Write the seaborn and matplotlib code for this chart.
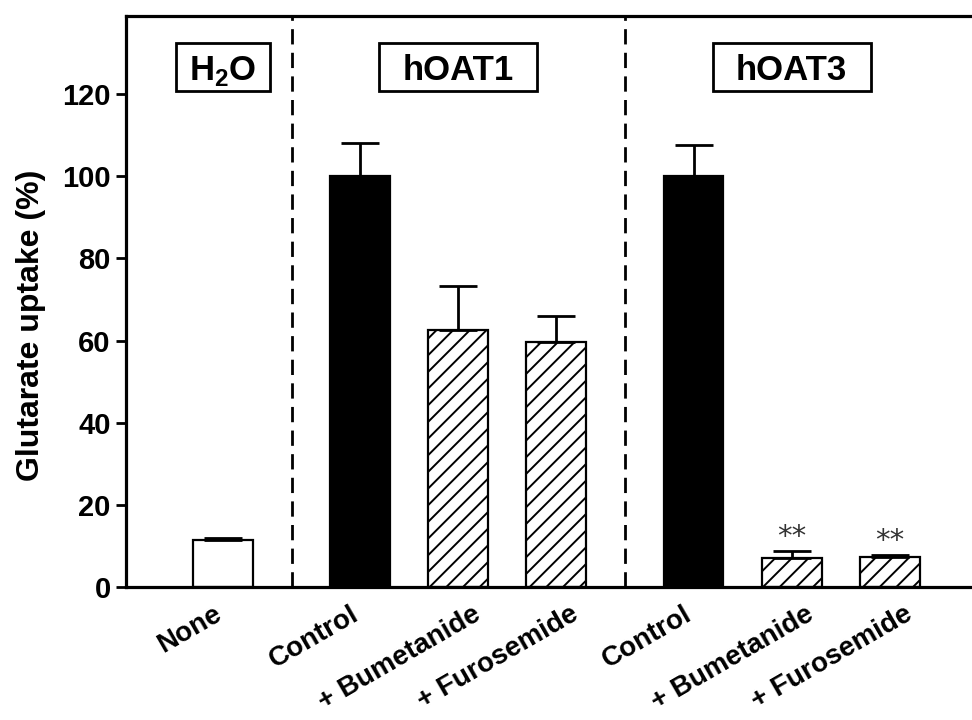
import numpy as np
import pandas as pd
import matplotlib
matplotlib.use("Agg")
import matplotlib.pyplot as plt
import matplotlib.transforms as mtransforms
from matplotlib.patches import Rectangle
import seaborn as sns

# ---- data ----
groups = ["H2O", "hOAT1", "hOAT1", "hOAT1", "hOAT3", "hOAT3", "hOAT3"]
labels = ["None", "Control", "+ Bumetanide", "+ Furosemide",
          "Control", "+ Bumetanide", "+ Furosemide"]
kinds = ["none", "control", "inhib", "inhib", "control", "inhib", "inhib"]
values = [11.4, 100.0, 62.5, 59.7, 100.0, 7.0, 7.3]
errors = [0.5, 8.0, 10.8, 6.3, 7.5, 1.8, 0.4]
signif = ["", "", "", "", "", "**", "**"]
group_titles = ["H$_\\mathbf{2}$O", "hOAT1", "hOAT3"]

# ---- layout: positions within groups plus a gap between groups ----
group_gap = 0.4
pos = []
prev = None
x = -1.0
for g in groups:
    x += 1.0 + (group_gap if (prev is not None and g != prev) else 0.0)
    pos.append(x)
    prev = g
pos = np.array(pos)

df = pd.DataFrame({"pos": pos, "value": values, "err": errors,
                   "kind": kinds, "label": labels, "group": groups})

sns.set_theme(style="white")
plt.rcParams["font.family"] = ["Liberation Sans", "DejaVu Sans"]
plt.rcParams["mathtext.fontset"] = "custom"
plt.rcParams["mathtext.rm"] = "Liberation Sans"
plt.rcParams["mathtext.bf"] = "Liberation Sans:bold"
plt.rcParams["hatch.linewidth"] = 1.4
plt.rcParams["text.color"] = "black"
plt.rcParams["xtick.color"] = "black"
plt.rcParams["ytick.color"] = "black"
plt.rcParams["axes.labelcolor"] = "black"

fig = plt.figure(figsize=(9.72, 7.2), dpi=100)
ax = fig.add_axes([0.1296, 0.1847, 0.8704, 0.7931])

palette = {"none": "white", "control": "black", "inhib": "white"}
sns.barplot(data=df, x="pos", y="value", hue="kind", palette=palette,
            native_scale=True, dodge=False, width=0.61, errorbar=None,
            edgecolor="black", linewidth=1.6, legend=False, ax=ax,
            hue_order=["none", "control", "inhib"])

for cont, k in zip(ax.containers, ["none", "control", "inhib"]):
    for p in cont:
        if k == "inhib":
            p.set_hatch("//")

ax.errorbar(df["pos"], df["value"],
            yerr=[np.zeros(len(df)), df["err"]],
            fmt="none", ecolor="black", elinewidth=2, capsize=13.5,
            capthick=2, zorder=1)

ymax = 139
for p, v, e, s in zip(pos, values, errors, signif):
    if s:
        ax.text(p, v + e + 3.4, s, ha="center", va="center",
                fontsize=21, color="#333333", fontfamily="DejaVu Sans")

# group separators and titles
uniq = []
for g in groups:
    if g not in uniq:
        uniq.append(g)
gpos = [pos[[i for i, g in enumerate(groups) if g == u]] for u in uniq]
for a, b in zip(gpos[:-1], gpos[1:]):
    ax.axvline((a.max() + b.min()) / 2, color="black", lw=2,
               linestyle=(0, (5.5, 3)), zorder=0)
box_w = [0.96, 1.61, 1.61]
box_h = 11.7
title_y = 126.5
for gp, t, w in zip(gpos, group_titles, box_w):
    cx = gp.mean()
    ax.add_patch(Rectangle((cx - w / 2, title_y - box_h / 2), w, box_h,
                           fc="white", ec="black", lw=2, zorder=3))
    ax.text(cx, title_y, t, ha="center", va="center_baseline",
            fontsize=25, fontweight="bold", zorder=4)

ax.set_xlim(-0.99, 7.64)
ax.set_ylim(0, ymax)
ax.set_yticks([0, 20, 40, 60, 80, 100, 120])
ax.set_yticklabels(["0", "20", "40", "60", "80", "100", "120"],
                   fontsize=21, fontweight="bold")
ax.set_xticks(pos)
ax.set_xticklabels(labels, rotation=30, ha="right", rotation_mode="anchor",
                   fontsize=20, fontweight="bold")
ax.tick_params(axis="x", length=0, pad=10)
ax.tick_params(axis="y", direction="out", length=7, width=2, pad=4,
               left=True)
base_shift = mtransforms.ScaledTranslation(-0.10, 0, fig.dpi_scale_trans)
plus_shift = mtransforms.ScaledTranslation(0.24, 0, fig.dpi_scale_trans)
for lab in ax.get_xticklabels():
    tr = lab.get_transform() + base_shift
    if lab.get_text().startswith("+"):
        tr = tr + plus_shift
    lab.set_transform(tr)
ax.set_xlabel("")
ax.set_ylabel("Glutarate uptake (%)", fontsize=23, fontweight="bold")
ax.yaxis.set_label_coords(-0.095, 0.459)

for side in ["left", "top", "bottom"]:
    ax.spines[side].set_visible(True)
    ax.spines[side].set_linewidth(2.3)
    ax.spines[side].set_color("black")
ax.spines["right"].set_visible(False)

fig.savefig("out.png", dpi=100, facecolor="white")
